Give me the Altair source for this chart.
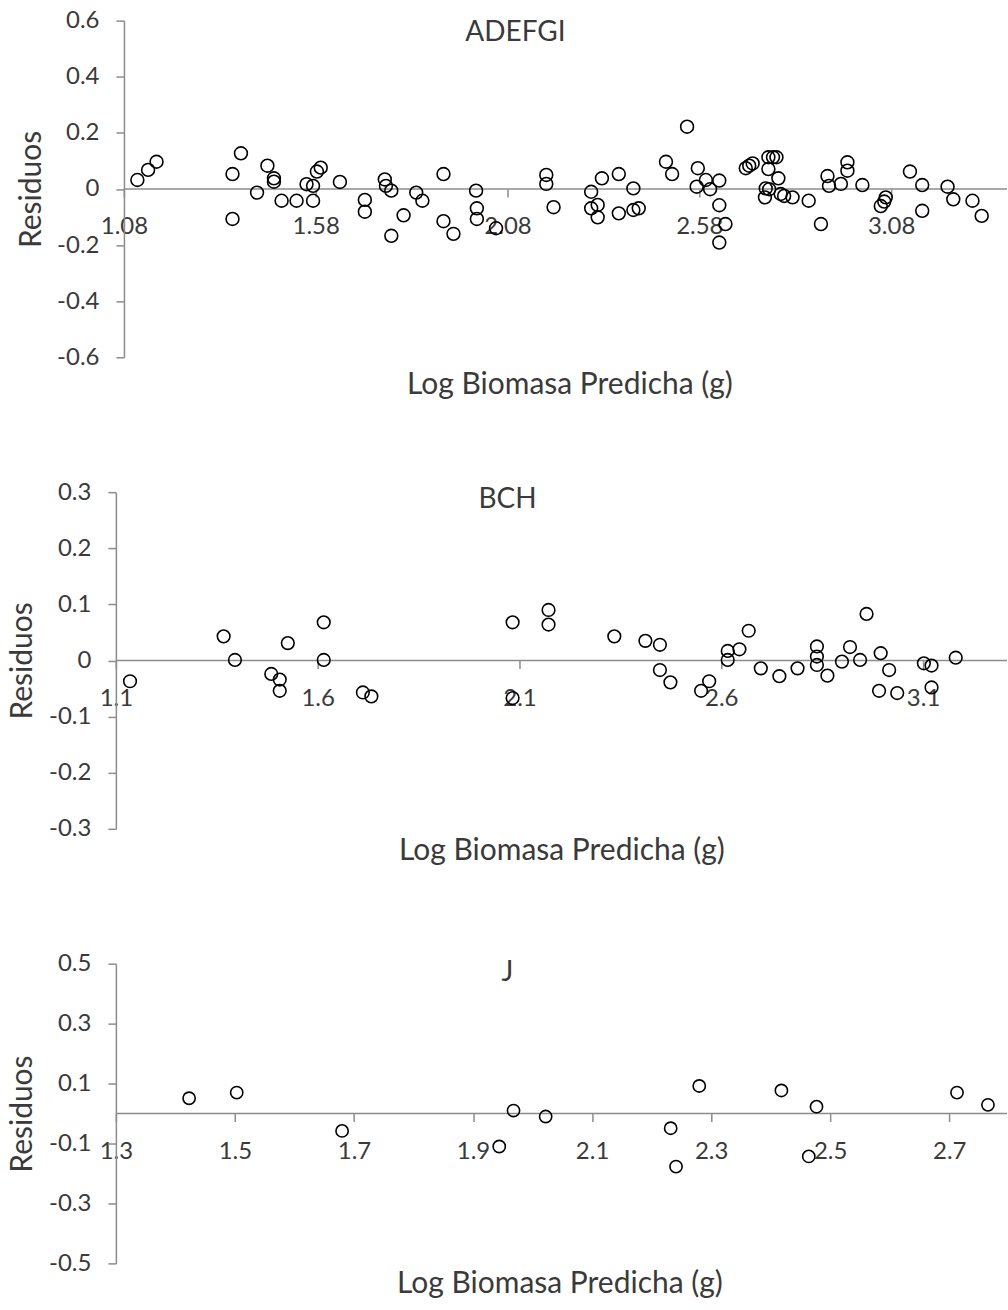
import altair as alt
import pandas as pd

FONT = "Lato"
INK = "#3a3a3a"
AXIS_GREY = "#8c8c8c"
PLOT_W = 892
X_TITLE = "Log Biomasa Predicha (g)"
Y_TITLE = "Residuos"

# ---- Group ADEFGI ----
adefgi_pred = [
    1.115, 1.143, 1.165, 1.363, 1.363, 1.385, 1.427, 1.454, 1.471, 1.471,
    1.491, 1.530, 1.556, 1.573, 1.573, 1.583, 1.593, 1.643, 1.708, 1.708,
    1.760, 1.763, 1.777, 1.777, 1.809, 1.842, 1.858, 1.913, 1.913, 1.939,
    1.998, 2.000, 2.000, 2.050, 2.181, 2.181, 2.200, 2.298, 2.298, 2.315,
    2.315, 2.326, 2.370, 2.370, 2.408, 2.408, 2.422, 2.493, 2.509, 2.548,
    2.576, 2.573, 2.597, 2.608, 2.632, 2.632, 2.648, 2.632, 2.701, 2.719,
    2.710, 2.760, 2.772, 2.781, 2.760, 2.786, 2.753, 2.762, 2.751, 2.792,
    2.801, 2.823, 2.865, 2.897, 2.914, 2.918, 2.949, 2.966, 2.966, 3.005,
    3.053, 3.062, 3.066, 3.129, 3.161, 3.161, 3.227, 3.242, 3.292, 3.316,
]
adefgi_resid = [
    0.032, 0.068, 0.097, 0.053, -0.107, 0.127, -0.013, 0.083, 0.038, 0.026,
    -0.042, -0.042, 0.017, -0.042, 0.011, 0.062, 0.076, 0.025, -0.039, -0.081,
    0.034, 0.011, -0.006, -0.167, -0.094, -0.013, -0.042, 0.053, -0.115, -0.160,
    -0.006, -0.069, -0.107, -0.140, 0.050, 0.018, -0.065, -0.010, -0.069, -0.057,
    -0.101, 0.038, 0.053, -0.087, 0.002, -0.075, -0.069, 0.097, 0.053, 0.222,
    0.074, 0.008, 0.032, -0.001, 0.030, -0.058, -0.125, -0.191, 0.074, 0.091,
    0.083, 0.113, 0.113, 0.113, 0.071, 0.038, 0.002, -0.001, -0.030, -0.018,
    -0.025, -0.030, -0.042, -0.125, 0.046, 0.011, 0.018, 0.095, 0.065, 0.014,
    -0.061, -0.045, -0.030, 0.062, 0.014, -0.078, 0.008, -0.037, -0.042, -0.096,
]
adefgi_xticks = [1.08, 1.58, 2.08, 2.58, 3.08]
adefgi_yticks = [-0.6, -0.4, -0.2, 0, 0.2, 0.4, 0.6]

# ---- Group BCH ----
bch_pred = [
    1.135, 1.367, 1.395, 1.485, 1.506, 1.506, 1.526, 1.615, 1.615, 1.712,
    1.733, 2.083, 2.083, 2.172, 2.172, 2.335, 2.412, 2.448, 2.448, 2.474,
    2.550, 2.570, 2.616, 2.616, 2.645, 2.668, 2.698, 2.744, 2.789, 2.837,
    2.837, 2.837, 2.863, 2.899, 2.919, 2.944, 2.960, 2.995, 2.991, 3.016,
    3.036, 3.102, 3.121, 3.121, 3.181,
]
bch_resid = [
    -0.037, 0.043, 0.001, -0.024, -0.034, -0.054, 0.031, 0.068, 0.001, -0.057,
    -0.064, 0.068, -0.067, 0.090, 0.064, 0.043, 0.035, 0.028, -0.017, -0.039,
    -0.054, -0.037, 0.017, 0.001, 0.020, 0.053, -0.014, -0.028, -0.014, 0.025,
    0.007, -0.008, -0.027, -0.002, 0.024, 0.001, 0.083, 0.013, -0.054, -0.017,
    -0.058, -0.005, -0.009, -0.048, 0.005,
]
bch_xticks = [1.1, 1.6, 2.1, 2.6, 3.1]
bch_yticks = [-0.3, -0.2, -0.1, 0, 0.1, 0.2, 0.3]

# ---- Group J ----
j_pred = [1.423, 1.503, 1.680, 1.944, 1.968, 2.022, 2.232, 2.241, 2.280,
          2.418, 2.477, 2.464, 2.713, 2.765]
j_resid = [0.051, 0.070, -0.058, -0.110, 0.010, -0.010, -0.049, -0.177, 0.092,
           0.077, 0.023, -0.143, 0.070, 0.029]
j_xticks = [1.3, 1.5, 1.7, 1.9, 2.1, 2.3, 2.5, 2.7]
j_yticks = [-0.5, -0.3, -0.1, 0.1, 0.3, 0.5]


def residual_panel(label, pred, resid, xdomain, xticks, ydomain, yticks,
                   height, dot_size, xtitle_x, xtitle_y, label_x, label_y):
    pts = pd.DataFrame({"pred": pred, "resid": resid})
    # horizontal reference line at zero, from the first tick to the scale end
    zero = pd.DataFrame({"pred": [xticks[0]], "pred_end": [xdomain[1]], "resid": [0]})
    name = pd.DataFrame({"group": [label]})

    xscale = alt.Scale(domain=xdomain, nice=False, zero=False)
    yscale = alt.Scale(domain=ydomain, nice=False, zero=False)
    px_per_unit = PLOT_W / (xdomain[1] - xdomain[0])
    y_axis_shift = (xticks[0] - xdomain[0]) * px_per_unit
    zero_from_bottom = height * (0 - ydomain[0]) / (ydomain[1] - ydomain[0])

    x_enc = alt.X(
        "pred:Q", scale=xscale,
        axis=alt.Axis(values=xticks, offset=-zero_from_bottom, domain=False,
                      tickSize=8, labelPadding=18,
                      labelExpr="toString(datum.value)",
                      title=X_TITLE, titleX=xtitle_x, titleY=xtitle_y,
                      titleBaseline="middle"),
    )
    y_enc = alt.Y(
        "resid:Q", scale=yscale,
        axis=alt.Axis(values=yticks, offset=-y_axis_shift, tickSize=8,
                      labelPadding=17, labelExpr="toString(datum.value)",
                      title=Y_TITLE, titleX=-93, titleBaseline="middle"),
    )

    zero_line = alt.Chart(zero).mark_rule(
        color=AXIS_GREY, strokeWidth=1.5
    ).encode(x=x_enc, x2="pred_end:Q", y=y_enc)

    dots = alt.Chart(pts).mark_point(
        shape="circle", filled=False, color="black", strokeWidth=1.6,
        opacity=1, size=dot_size
    ).encode(x=x_enc, y=y_enc)

    heading = alt.Chart(name).mark_text(
        font=FONT, fontSize=28, color=INK, align="center", baseline="middle"
    ).encode(text="group:N", x=alt.value(label_x), y=alt.value(label_y))

    return alt.layer(zero_line, dots, heading).properties(width=PLOT_W, height=height)


p1 = residual_panel("ADEFGI", adefgi_pred, adefgi_resid, [1.059, 3.382],
                    adefgi_xticks, [-0.6, 0.6], adefgi_yticks, 337, 165,
                    454, 196, 400, 12)
p2 = residual_panel("BCH", bch_pred, bch_resid, [1.1, 3.308],
                    bch_xticks, [-0.3, 0.3], bch_yticks, 337, 160,
                    446, 190, 392, 8)
p3 = residual_panel("J", j_pred, j_resid, [1.3, 2.797],
                    j_xticks, [-0.5, 0.5], j_yticks, 300, 150,
                    444, 170, 392, 9)

chart = alt.vconcat(p1, p2, p3, spacing=135, bounds="flush").configure(
    padding={"left": 8, "top": 8, "right": 0, "bottom": 0}
).configure_view(stroke=None).configure_axis(
    labelFont=FONT, labelFontSize=24, labelColor=INK,
    labelFlush=False, labelOverlap=False,
    titleFont=FONT, titleFontSize=30, titleFontWeight="normal", titleColor=INK,
    domainColor=AXIS_GREY, domainWidth=1.5,
    tickColor=AXIS_GREY, tickWidth=1.5, grid=False,
)

chart.save("out.html", embed_options={"renderer": "svg", "actions": False})
